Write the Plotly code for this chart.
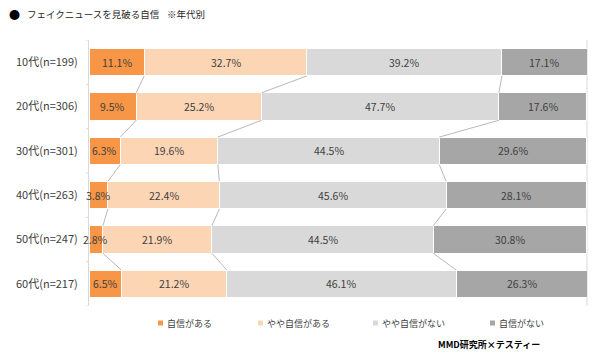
import plotly.graph_objects as go

categories = ["10代(n=199)", "20代(n=306)", "30代(n=301)", "40代(n=263)", "50代(n=247)", "60代(n=217)"]
series_names = ["自信がある", "やや自信がある", "やや自信がない", "自信がない"]
s_aru = [11.1, 9.5, 6.3, 3.8, 2.8, 6.5]
s_yaya_aru = [32.7, 25.2, 19.6, 22.4, 21.9, 21.2]
s_yaya_nai = [39.2, 47.7, 44.5, 45.6, 44.5, 46.1]
s_nai = [17.1, 17.6, 29.6, 28.1, 30.8, 26.3]
series = [s_aru, s_yaya_aru, s_yaya_nai, s_nai]
colors = ["#F79646", "#FCD5B5", "#D9D9D9", "#A6A6A6"]

title = "フェイクニュースを見破る自信"
subtitle = "※年代別"
source = "MMD研究所×テスティー"

FONT = "Noto Sans CJK JP"
TXT = "#404040"
XMAX = 100.1

# plot area in pixels
L, R, T, B = 89, 587, 40, 306
W, H = R - L, B - T
def px_x(p):
    return (p - L) / W
def px_y(p):
    return (B - p) / H

ypos = list(range(len(categories)))
bar_w = 0.62

fig = go.Figure()
for name, vals, col in zip(series_names, series, colors):
    fig.add_trace(go.Bar(
        y=ypos, x=vals, name=name, orientation="h",
        marker=dict(color=col, line=dict(color="white", width=1)),
        width=bar_w,
        hovertemplate="%{x:.1f}%<extra>" + name + "</extra>",
        showlegend=False,
    ))

shapes = []
annotations = []

# cumulative boundaries (for connector lines and label centres)
cums = []
for i in range(len(categories)):
    c, acc = [0.0], 0.0
    for s in series:
        acc += s[i]
        c.append(acc)
    cums.append(c)

# data labels centred in each segment
for i in range(len(categories)):
    for k, s in enumerate(series):
        annotations.append(dict(text=f"{s[i]:.1f}%", xref="x", yref="y",
                                x=(cums[i][k] + cums[i][k + 1]) / 2, y=i,
                                xanchor="center", yanchor="middle", showarrow=False,
                                font=dict(family=FONT, size=10.5, color=TXT)))

# connector lines between bars
for i in range(len(categories) - 1):
    for k in range(1, 4):
        shapes.append(dict(type="line", xref="x", yref="y",
                           x0=cums[i][k], y0=i + bar_w / 2,
                           x1=cums[i + 1][k], y1=i + 1 - bar_w / 2,
                           line=dict(color="#A6A6A6", width=0.8)))
# right boundary line
shapes.append(dict(type="line", xref="paper", yref="paper", x0=1, x1=1, y0=0, y1=1,
                   line=dict(color="#D9D9D9", width=1), layer="below"))
# left axis ticks at category boundaries
for j in range(len(categories) + 1):
    shapes.append(dict(type="line", xref="paper", yref="y",
                       x0=-3 / W, x1=0, y0=j - 0.5, y1=j - 0.5,
                       line=dict(color="#D9D9D9", width=1)))

# title
annotations.append(dict(text="●", xref="paper", yref="paper", x=px_x(7), y=px_y(14),
                        xanchor="left", yanchor="middle", showarrow=False,
                        font=dict(family=FONT, size=11, color="#000000")))
annotations.append(dict(text=title, xref="paper", yref="paper", x=px_x(25), y=px_y(14),
                        xanchor="left", yanchor="middle", showarrow=False,
                        font=dict(family=FONT, size=9.5, color="#262626")))
annotations.append(dict(text=subtitle, xref="paper", yref="paper", x=px_x(165), y=px_y(14),
                        xanchor="left", yanchor="middle", showarrow=False,
                        font=dict(family=FONT, size=9.5, color="#262626")))
# legend
leg_x = [158, 258, 373, 490]
for name, col, lx in zip(series_names, colors, leg_x):
    shapes.append(dict(type="rect", xref="paper", yref="paper",
                       xsizemode="pixel", ysizemode="pixel",
                       xanchor=px_x(lx), yanchor=px_y(323),
                       x0=0, x1=5, y0=-2.5, y1=2.5,
                       fillcolor=col, line=dict(width=0)))
    annotations.append(dict(text=name, xref="paper", yref="paper", x=px_x(lx + 7), y=px_y(323),
                            xanchor="left", yanchor="middle", showarrow=False,
                            font=dict(family=FONT, size=9, color=TXT)))
# source
annotations.append(dict(text=f"<b>{source}</b>", xref="paper", yref="paper", x=px_x(436), y=px_y(344),
                        xanchor="left", yanchor="middle", showarrow=False,
                        font=dict(family=FONT, size=9, color="#000000")))

fig.update_layout(
    width=600, height=360, autosize=False,
    margin=dict(l=L, r=600 - R, t=T, b=360 - B, autoexpand=False),
    paper_bgcolor="white", plot_bgcolor="white",
    barmode="stack",
    shapes=shapes, annotations=annotations,
    xaxis=dict(range=[0, XMAX], visible=False, fixedrange=True),
    yaxis=dict(range=[len(categories) - 0.5, -0.5], tickvals=ypos, ticktext=categories,
               showline=True, linecolor="#D9D9D9", linewidth=1, ticks="",
               showgrid=False, zeroline=False, ticklabelstandoff=8, automargin=False,
               fixedrange=True,
               tickfont=dict(family=FONT, size=11, color=TXT)),
    font=dict(family=FONT),
)

fig.write_html("out.html", config={"displayModeBar": False},
               post_script="document.body.style.margin='0';document.body.style.overflow='hidden';")
